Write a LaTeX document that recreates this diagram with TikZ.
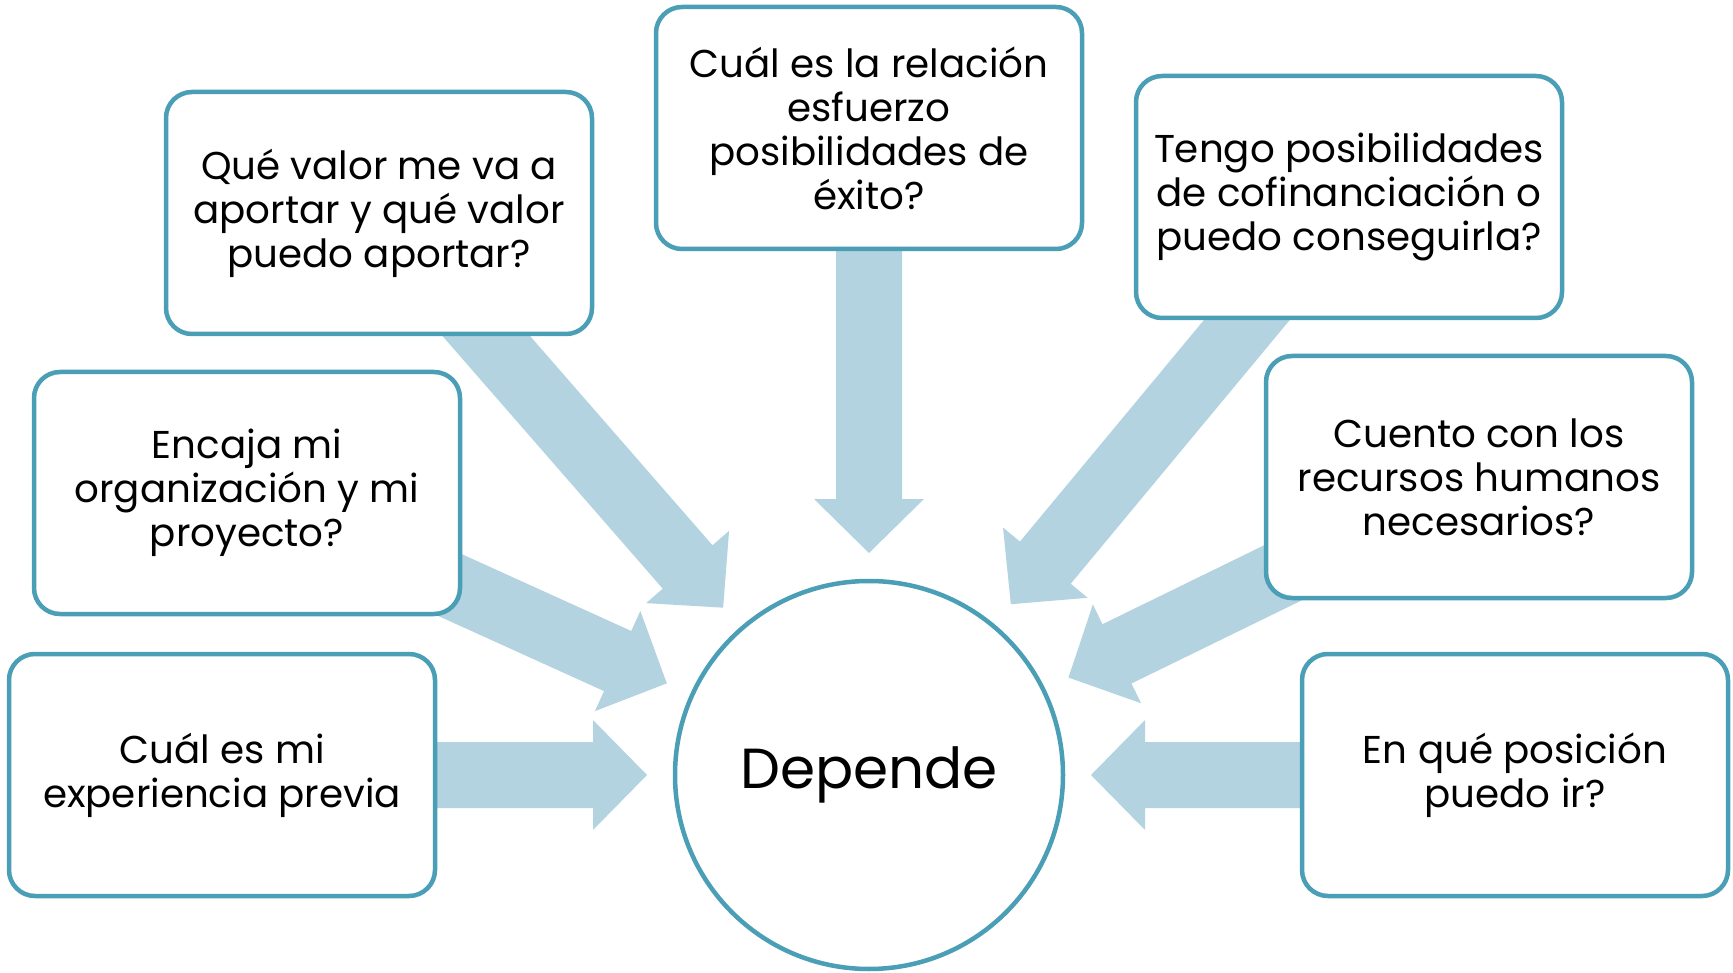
\documentclass[tikz,border=0pt]{standalone}
\usepackage{fontspec}
\setmainfont{Poppins}
\usetikzlibrary{calc}
\pgfdeclarelayer{background}
\pgfsetlayers{background,main}
\definecolor{bordc}{RGB}{74,158,181}
\definecolor{arrc}{RGB}{178,211,223}
\tikzset{
  qbox/.style={draw=bordc, line width=4.5pt, fill=white, rounded corners=26pt,
    minimum width=426pt, minimum height=242pt, align=center, inner sep=0pt,
    font=\fontsize{38.8}{44}\selectfont},
  hub/.style={circle, draw=bordc, line width=4.5pt, fill=white,
    minimum size=388pt, inner sep=0pt, font=\fontsize{56.5}{60}\selectfont},
  arrowfill/.style={fill=arrc}
}
\newcommand\blockarrow[2]{%
  \path coordinate (t) at ($(#2.center)!222pt!(#1.center)$)
        coordinate (h) at ($(#2.center)!276pt!(#1.center)$);
  \fill[arrowfill] ($(#1.center)!33pt!90:(t)$) -- ($(h)!33pt!90:(t)$)
    -- ($(h)!55pt!90:(t)$) -- (t) -- ($(h)!55pt!-90:(t)$)
    -- ($(h)!33pt!-90:(t)$) -- ($(#1.center)!33pt!-90:(t)$) -- cycle;}
\begin{document}
\begin{tikzpicture}[x=1pt,y=-1pt]
\useasboundingbox (0,0) rectangle (1733,973);
\node[hub] (dep) at (869,775) {\raisebox{-4pt}{Depende}};
\node[qbox] (A) at (379,213) {Qué valor me va a\\aportar y qué valor\\puedo aportar?};
\node[qbox] (B) at (869,128) {Cuál es la relación\\esfuerzo\\posibilidades de\\éxito?};
\node[qbox] (C) at (1349,197) {Tengo posibilidades\\de cofinanciación o\\puedo conseguirla?};
\node[qbox] (D) at (247,493) {Encaja mi\\organización y mi\\proyecto?};
\node[qbox] (E) at (1479,477) {Cuento con los\\recursos humanos\\necesarios?};
\node[qbox] (F) at (222,775) {Cuál es mi\\experiencia previa};
\node[qbox] (G) at (1515,775) {En qué posición\\puedo ir?};
\begin{pgfonlayer}{background}
  \blockarrow{A}{dep}
  \blockarrow{B}{dep}
  \blockarrow{C}{dep}
  \blockarrow{D}{dep}
  \blockarrow{E}{dep}
  \blockarrow{F}{dep}
  \blockarrow{G}{dep}
\end{pgfonlayer}
\end{tikzpicture}
\end{document}
